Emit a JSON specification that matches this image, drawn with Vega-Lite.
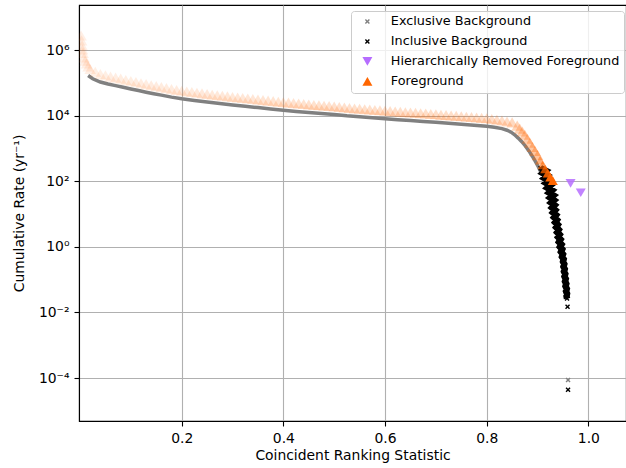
{
"$schema": "https://vega.github.io/schema/vega-lite/v6.json",
"width": 547, "height": 416,
"autosize": {"type": "none"},
"padding": {"left": 79, "top": 5, "right": 0, "bottom": 47},
"config": {
  "font": "DejaVu Sans",
  "view": {"stroke": "black", "strokeWidth": 1.1},
  "axis": {"labelFont": "DejaVu Sans", "labelFontSize": 13.9, "labelColor": "black", "titleFont": "DejaVu Sans", "titleFontSize": 13.9, "titleFontWeight": "normal", "titleColor": "black", "tickColor": "black", "tickSize": 5, "tickWidth": 1.1, "domainColor": "black", "domainWidth": 1.1, "gridColor": "#b0b0b0", "gridWidth": 1.1, "labelPadding": 5, "labelFlush": false, "labelOverlap": false}
},
"data": {"values": [
{"stat":0.016,"rate":1.70e5,"type":"Exclusive Background"},{"stat":0.025,"rate":1.35e5,"type":"Exclusive Background"},{"stat":0.04,"rate":1.07e5,"type":"Exclusive Background"},{"stat":0.055,"rate":9.33e4,"type":"Exclusive Background"},{"stat":0.07,"rate":8.32e4,"type":"Exclusive Background"},{"stat":0.085,"rate":7.41e4,"type":"Exclusive Background"},{"stat":0.1,"rate":6.61e4,"type":"Exclusive Background"},{"stat":0.115,"rate":5.89e4,"type":"Exclusive Background"},{"stat":0.13,"rate":5.25e4,"type":"Exclusive Background"},{"stat":0.145,"rate":4.73e4,"type":"Exclusive Background"},{"stat":0.16,"rate":4.27e4,"type":"Exclusive Background"},{"stat":0.18,"rate":3.72e4,"type":"Exclusive Background"},{"stat":0.2,"rate":3.31e4,"type":"Exclusive Background"},{"stat":0.225,"rate":2.95e4,"type":"Exclusive Background"},{"stat":0.25,"rate":2.63e4,"type":"Exclusive Background"},{"stat":0.275,"rate":2.37e4,"type":"Exclusive Background"},{"stat":0.3,"rate":2.14e4,"type":"Exclusive Background"},{"stat":0.325,"rate":1.95e4,"type":"Exclusive Background"},{"stat":0.35,"rate":1.78e4,"type":"Exclusive Background"},{"stat":0.375,"rate":1.62e4,"type":"Exclusive Background"},{"stat":0.4,"rate":1.48e4,"type":"Exclusive Background"},{"stat":0.425,"rate":1.36e4,"type":"Exclusive Background"},{"stat":0.45,"rate":1.26e4,"type":"Exclusive Background"},{"stat":0.475,"rate":1.17e4,"type":"Exclusive Background"},{"stat":0.5,"rate":1.10e4,"type":"Exclusive Background"},{"stat":0.525,"rate":1.0e4,"type":"Exclusive Background"},{"stat":0.55,"rate":9330,"type":"Exclusive Background"},{"stat":0.575,"rate":8710,"type":"Exclusive Background"},{"stat":0.6,"rate":8130,"type":"Exclusive Background"},{"stat":0.625,"rate":7590,"type":"Exclusive Background"},{"stat":0.65,"rate":7160,"type":"Exclusive Background"},{"stat":0.675,"rate":6760,"type":"Exclusive Background"},{"stat":0.7,"rate":6310,"type":"Exclusive Background"},{"stat":0.725,"rate":5890,"type":"Exclusive Background"},{"stat":0.75,"rate":5500,"type":"Exclusive Background"},{"stat":0.775,"rate":5130,"type":"Exclusive Background"},{"stat":0.8,"rate":4790,"type":"Exclusive Background"},{"stat":0.815,"rate":4470,"type":"Exclusive Background"},{"stat":0.83,"rate":4070,"type":"Exclusive Background"},{"stat":0.84,"rate":3630,"type":"Exclusive Background"},{"stat":0.848,"rate":3160,"type":"Exclusive Background"},{"stat":0.855,"rate":2630,"type":"Exclusive Background"},{"stat":0.862,"rate":2090,"type":"Exclusive Background"},{"stat":0.869,"rate":1620,"type":"Exclusive Background"},{"stat":0.876,"rate":1200,"type":"Exclusive Background"},{"stat":0.883,"rate":851,"type":"Exclusive Background"},{"stat":0.89,"rate":575,"type":"Exclusive Background"},{"stat":0.896,"rate":398,"type":"Exclusive Background"},{"stat":0.902,"rate":269,"type":"Exclusive Background"},{"stat":0.906,"rate":200,"type":"Exclusive Background"},{"stat":0.96,"rate":8.7e-5,"type":"Exclusive Background"},
{"stat":0.906,"rate":251,"type":"Inclusive Background"},{"stat":0.916,"rate":211,"type":"Inclusive Background"},{"stat":0.9105,"rate":178,"type":"Inclusive Background"},{"stat":0.9191,"rate":150,"type":"Inclusive Background"},{"stat":0.9136,"rate":126,"type":"Inclusive Background"},{"stat":0.9222,"rate":106,"type":"Inclusive Background"},{"stat":0.9167,"rate":89.1,"type":"Inclusive Background"},{"stat":0.9253,"rate":75.0,"type":"Inclusive Background"},{"stat":0.9198,"rate":63.1,"type":"Inclusive Background"},{"stat":0.9284,"rate":53.1,"type":"Inclusive Background"},{"stat":0.923,"rate":44.7,"type":"Inclusive Background"},{"stat":0.9312,"rate":37.6,"type":"Inclusive Background"},{"stat":0.9252,"rate":31.6,"type":"Inclusive Background"},{"stat":0.9324,"rate":26.6,"type":"Inclusive Background"},{"stat":0.9269,"rate":22.4,"type":"Inclusive Background"},{"stat":0.9335,"rate":18.8,"type":"Inclusive Background"},{"stat":0.9287,"rate":15.8,"type":"Inclusive Background"},{"stat":0.9347,"rate":13.3,"type":"Inclusive Background"},{"stat":0.9305,"rate":11.2,"type":"Inclusive Background"},{"stat":0.9364,"rate":9.44,"type":"Inclusive Background"},{"stat":0.9326,"rate":7.94,"type":"Inclusive Background"},{"stat":0.9381,"rate":6.68,"type":"Inclusive Background"},{"stat":0.9347,"rate":5.62,"type":"Inclusive Background"},{"stat":0.9399,"rate":4.73,"type":"Inclusive Background"},{"stat":0.9367,"rate":3.98,"type":"Inclusive Background"},{"stat":0.9417,"rate":3.35,"type":"Inclusive Background"},{"stat":0.9386,"rate":2.82,"type":"Inclusive Background"},{"stat":0.9435,"rate":2.37,"type":"Inclusive Background"},{"stat":0.9404,"rate":2.0,"type":"Inclusive Background"},{"stat":0.9453,"rate":1.68,"type":"Inclusive Background"},{"stat":0.9422,"rate":1.41,"type":"Inclusive Background"},{"stat":0.9471,"rate":1.19,"type":"Inclusive Background"},{"stat":0.9441,"rate":1.0,"type":"Inclusive Background"},{"stat":0.9485,"rate":0.841,"type":"Inclusive Background"},{"stat":0.9461,"rate":0.708,"type":"Inclusive Background"},{"stat":0.95,"rate":0.596,"type":"Inclusive Background"},{"stat":0.9481,"rate":0.501,"type":"Inclusive Background"},{"stat":0.9514,"rate":0.422,"type":"Inclusive Background"},{"stat":0.9501,"rate":0.355,"type":"Inclusive Background"},{"stat":0.9526,"rate":0.299,"type":"Inclusive Background"},{"stat":0.951,"rate":0.251,"type":"Inclusive Background"},{"stat":0.9535,"rate":0.211,"type":"Inclusive Background"},{"stat":0.952,"rate":0.178,"type":"Inclusive Background"},{"stat":0.9545,"rate":0.150,"type":"Inclusive Background"},{"stat":0.953,"rate":0.126,"type":"Inclusive Background"},{"stat":0.9555,"rate":0.106,"type":"Inclusive Background"},{"stat":0.954,"rate":0.0891,"type":"Inclusive Background"},{"stat":0.9565,"rate":0.075,"type":"Inclusive Background"},{"stat":0.955,"rate":0.0631,"type":"Inclusive Background"},{"stat":0.9575,"rate":0.0531,"type":"Inclusive Background"},{"stat":0.956,"rate":0.0447,"type":"Inclusive Background"},{"stat":0.958,"rate":0.0376,"type":"Inclusive Background"},{"stat":0.957,"rate":0.0316,"type":"Inclusive Background"},{"stat":0.958,"rate":0.0266,"type":"Inclusive Background"},{"stat":0.959,"rate":0.0151,"type":"Inclusive Background"},{"stat":0.96,"rate":4.4e-5,"type":"Inclusive Background"},
{"stat":0.965,"rate":87,"type":"Hierarchically Removed Foreground"},{"stat":0.985,"rate":45,"type":"Hierarchically Removed Foreground"},
{"stat":0.002,"rate":2.82e6,"type":"Foreground"},{"stat":0.003,"rate":2.0e6,"type":"Foreground"},{"stat":0.004,"rate":1.41e6,"type":"Foreground"},{"stat":0.005,"rate":1.05e6,"type":"Foreground"},{"stat":0.006,"rate":8.32e5,"type":"Foreground"},{"stat":0.008,"rate":6.03e5,"type":"Foreground"},{"stat":0.010,"rate":4.79e5,"type":"Foreground"},{"stat":0.013,"rate":3.98e5,"type":"Foreground"},{"stat":0.016,"rate":3.2e5,"type":"Foreground"},{"stat":0.02,"rate":2.68e5,"type":"Foreground"},{"stat":0.03,"rate":2.21e5,"type":"Foreground"},{"stat":0.04,"rate":1.88e5,"type":"Foreground"},{"stat":0.05,"rate":1.72e5,"type":"Foreground"},{"stat":0.06,"rate":1.57e5,"type":"Foreground"},{"stat":0.07,"rate":1.46e5,"type":"Foreground"},{"stat":0.08,"rate":1.36e5,"type":"Foreground"},{"stat":0.09,"rate":1.24e5,"type":"Foreground"},{"stat":0.10,"rate":1.16e5,"type":"Foreground"},{"stat":0.11,"rate":1.08e5,"type":"Foreground"},{"stat":0.12,"rate":9.86e4,"type":"Foreground"},{"stat":0.13,"rate":9.24e4,"type":"Foreground"},{"stat":0.14,"rate":8.6e4,"type":"Foreground"},{"stat":0.15,"rate":8.03e4,"type":"Foreground"},{"stat":0.16,"rate":7.49e4,"type":"Foreground"},{"stat":0.17,"rate":6.99e4,"type":"Foreground"},{"stat":0.18,"rate":6.52e4,"type":"Foreground"},{"stat":0.19,"rate":6.16e4,"type":"Foreground"},{"stat":0.20,"rate":5.82e4,"type":"Foreground"},{"stat":0.21,"rate":5.55e4,"type":"Foreground"},{"stat":0.22,"rate":5.31e4,"type":"Foreground"},{"stat":0.23,"rate":5.06e4,"type":"Foreground"},{"stat":0.24,"rate":4.84e4,"type":"Foreground"},{"stat":0.25,"rate":4.62e4,"type":"Foreground"},{"stat":0.26,"rate":4.41e4,"type":"Foreground"},{"stat":0.27,"rate":4.25e4,"type":"Foreground"},{"stat":0.28,"rate":4.07e4,"type":"Foreground"},{"stat":0.29,"rate":3.92e4,"type":"Foreground"},{"stat":0.30,"rate":3.76e4,"type":"Foreground"},{"stat":0.31,"rate":3.62e4,"type":"Foreground"},{"stat":0.32,"rate":3.48e4,"type":"Foreground"},{"stat":0.33,"rate":3.36e4,"type":"Foreground"},{"stat":0.34,"rate":3.24e4,"type":"Foreground"},{"stat":0.35,"rate":3.12e4,"type":"Foreground"},{"stat":0.36,"rate":3.01e4,"type":"Foreground"},{"stat":0.37,"rate":2.90e4,"type":"Foreground"},{"stat":0.38,"rate":2.80e4,"type":"Foreground"},{"stat":0.39,"rate":2.69e4,"type":"Foreground"},{"stat":0.40,"rate":2.60e4,"type":"Foreground"},{"stat":0.41,"rate":2.52e4,"type":"Foreground"},{"stat":0.42,"rate":2.44e4,"type":"Foreground"},{"stat":0.43,"rate":2.36e4,"type":"Foreground"},{"stat":0.44,"rate":2.28e4,"type":"Foreground"},{"stat":0.45,"rate":2.21e4,"type":"Foreground"},{"stat":0.46,"rate":2.15e4,"type":"Foreground"},{"stat":0.47,"rate":2.09e4,"type":"Foreground"},{"stat":0.48,"rate":2.03e4,"type":"Foreground"},{"stat":0.49,"rate":1.98e4,"type":"Foreground"},{"stat":0.50,"rate":1.93e4,"type":"Foreground"},{"stat":0.51,"rate":1.86e4,"type":"Foreground"},{"stat":0.52,"rate":1.79e4,"type":"Foreground"},{"stat":0.53,"rate":1.73e4,"type":"Foreground"},{"stat":0.54,"rate":1.68e4,"type":"Foreground"},{"stat":0.55,"rate":1.64e4,"type":"Foreground"},{"stat":0.56,"rate":1.59e4,"type":"Foreground"},{"stat":0.57,"rate":1.55e4,"type":"Foreground"},{"stat":0.58,"rate":1.50e4,"type":"Foreground"},{"stat":0.59,"rate":1.47e4,"type":"Foreground"},{"stat":0.60,"rate":1.43e4,"type":"Foreground"},{"stat":0.61,"rate":1.39e4,"type":"Foreground"},{"stat":0.62,"rate":1.35e4,"type":"Foreground"},{"stat":0.63,"rate":1.32e4,"type":"Foreground"},{"stat":0.64,"rate":1.28e4,"type":"Foreground"},{"stat":0.65,"rate":1.26e4,"type":"Foreground"},{"stat":0.66,"rate":1.23e4,"type":"Foreground"},{"stat":0.67,"rate":1.20e4,"type":"Foreground"},{"stat":0.68,"rate":1.17e4,"type":"Foreground"},{"stat":0.69,"rate":1.14e4,"type":"Foreground"},{"stat":0.70,"rate":1.11e4,"type":"Foreground"},{"stat":0.71,"rate":1.07e4,"type":"Foreground"},{"stat":0.72,"rate":1.05e4,"type":"Foreground"},{"stat":0.73,"rate":1.02e4,"type":"Foreground"},{"stat":0.74,"rate":9940,"type":"Foreground"},{"stat":0.75,"rate":9680,"type":"Foreground"},{"stat":0.76,"rate":9420,"type":"Foreground"},{"stat":0.77,"rate":9150,"type":"Foreground"},{"stat":0.78,"rate":8890,"type":"Foreground"},{"stat":0.79,"rate":8640,"type":"Foreground"},{"stat":0.80,"rate":8400,"type":"Foreground"},{"stat":0.81,"rate":8030,"type":"Foreground"},{"stat":0.82,"rate":7610,"type":"Foreground"},{"stat":0.83,"rate":7150,"type":"Foreground"},{"stat":0.84,"rate":6680,"type":"Foreground"},{"stat":0.85,"rate":6300,"type":"Foreground"},{"stat":0.86,"rate":5010,"type":"Foreground"},{"stat":0.865,"rate":4070,"type":"Foreground"},{"stat":0.87,"rate":3310,"type":"Foreground"},{"stat":0.875,"rate":2630,"type":"Foreground"},{"stat":0.88,"rate":2000,"type":"Foreground"},{"stat":0.885,"rate":1510,"type":"Foreground"},{"stat":0.89,"rate":1120,"type":"Foreground"},{"stat":0.895,"rate":851,"type":"Foreground"},{"stat":0.90,"rate":631,"type":"Foreground"},{"stat":0.905,"rate":447,"type":"Foreground"},{"stat":0.91,"rate":316,"type":"Foreground"},{"stat":0.915,"rate":240,"type":"Foreground"},{"stat":0.92,"rate":178,"type":"Foreground"},{"stat":0.925,"rate":135,"type":"Foreground"},{"stat":0.93,"rate":105,"type":"Foreground"}
]},
"encoding": {
  "x": {"field": "stat", "type": "quantitative", "scale": {"domain": [-0.002, 1.074], "nice": false, "zero": false}, "axis": {"values": [0.2, 0.4, 0.6, 0.8, 1.0], "format": ".1f", "titlePadding": 4}, "title": "Coincident Ranking Statistic"},
  "y": {"field": "rate", "type": "quantitative", "scale": {"type": "log", "domain": [4.9e-6, 2.4e7], "nice": false}, "axis": {"values": [1e-4, 0.01, 1, 100, 10000, 1000000], "labelExpr": "datum.value > 5e5 ? '10⁶' : datum.value > 5e3 ? '10⁴' : datum.value > 50 ? '10²' : datum.value > 0.5 ? '10⁰' : datum.value > 0.005 ? '10⁻²' : '10⁻⁴'", "titlePadding": 12}, "title": "Cumulative Rate (yr⁻¹)"}
},
"layer": [
  {"transform": [{"filter": "datum.type == 'Exclusive Background' && datum.rate > 100"}], "mark": {"type": "line", "color": "#808080", "strokeWidth": 3.5, "clip": true}, "encoding": {}},
  {"transform": [{"filter": "datum.type == 'Inclusive Background' && datum.rate > 0.02"}], "mark": {"type": "line", "color": "black", "strokeWidth": 6.5, "clip": true}, "encoding": {"order": {"field": "rate", "type": "quantitative", "sort": "descending"}}},
  {"transform": [{"filter": "datum.type != 'Exclusive Background' || datum.rate < 100"}],
   "mark": {"type": "point", "filled": true, "strokeWidth": 0, "clip": true},
   "encoding": {
     "color": {"field": "type", "type": "nominal", "scale": {"domain": ["Exclusive Background", "Inclusive Background", "Hierarchically Removed Foreground", "Foreground"], "range": ["#808080", "#000000", "#b66dff", "#ff6600"]},
       "legend": {"title": null, "orient": "none", "legendX": 272, "legendY": 6, "padding": 4, "symbolOffset": 6, "labelOffset": 17, "rowPadding": 6, "labelFontSize": 12.8, "labelFont": "DejaVu Sans", "labelColor": "black", "labelLimit": 400, "symbolSize": 100, "symbolStrokeWidth": 0, "symbolOpacity": 1, "fillColor": "rgba(255,255,255,0.8)", "strokeColor": "#cccccc", "cornerRadius": 3}},
     "shape": {"field": "type", "type": "nominal", "scale": {"domain": ["Exclusive Background", "Inclusive Background", "Hierarchically Removed Foreground", "Foreground"], "range": ["M-0.5,-0.3L-0.3,-0.5L0,-0.2L0.3,-0.5L0.5,-0.3L0.2,0L0.5,0.3L0.3,0.5L0,0.2L-0.3,0.5L-0.5,0.3L-0.2,0Z", "M-0.5,-0.3L-0.3,-0.5L0,-0.2L0.3,-0.5L0.5,-0.3L0.2,0L0.5,0.3L0.3,0.5L0,0.2L-0.3,0.5L-0.5,0.3L-0.2,0Z", "triangle-down", "triangle-up"]},
       "legend": {"title": null, "orient": "none", "legendX": 272, "legendY": 6, "padding": 4, "symbolOffset": 6, "labelOffset": 17, "rowPadding": 6, "labelFontSize": 12.8, "labelFont": "DejaVu Sans", "labelColor": "black", "labelLimit": 400, "symbolSize": 100, "symbolStrokeWidth": 0, "symbolOpacity": 1, "fillColor": "rgba(255,255,255,0.8)", "strokeColor": "#cccccc", "cornerRadius": 3}},
     "size": {"condition": {"test": "datum.type == 'Foreground' && datum.stat < 0.905", "value": 135}, "value": 100},
     "opacity": {"condition": [{"test": "datum.type == 'Hierarchically Removed Foreground'", "value": 0.85}, {"test": "datum.type != 'Foreground'", "value": 1}], "field": "stat", "type": "quantitative", "scale": {"domain": [0, 0.2, 0.5, 0.84, 0.9, 0.925], "range": [0.1, 0.13, 0.2, 0.22, 0.38, 1], "clamp": true}, "legend": null}
   }}
]
}
